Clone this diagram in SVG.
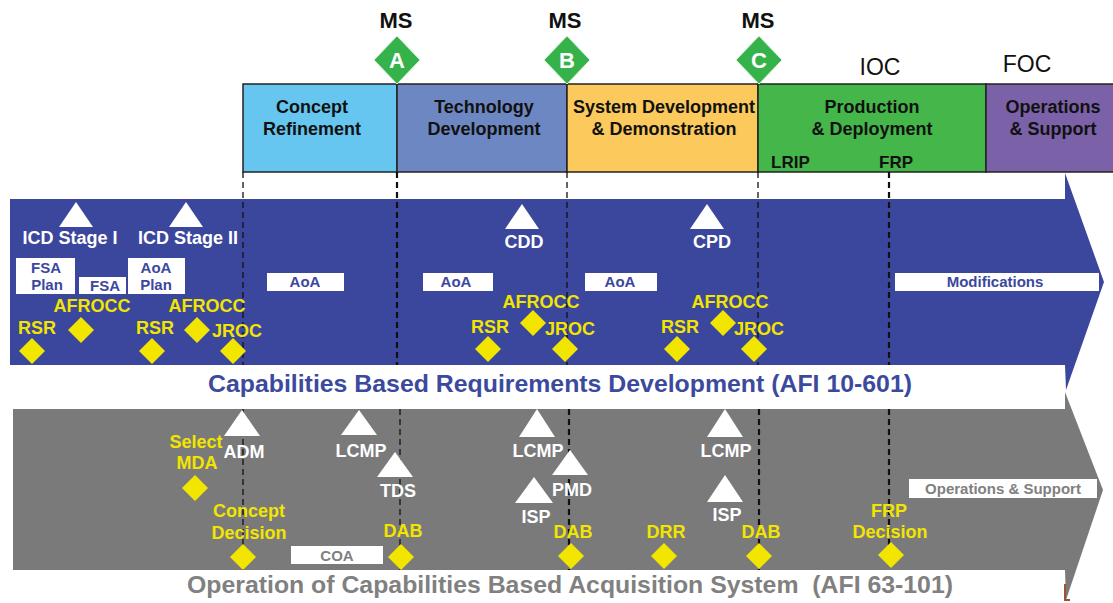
<svg xmlns="http://www.w3.org/2000/svg" width="1113" height="603" viewBox="0 0 1113 603">
<defs>
<style>
text{font-family:"Liberation Sans",Arial,sans-serif;font-weight:bold;text-anchor:middle}
.ph{font-size:18px;fill:#111}
.ms{font-size:22px;fill:#111}
.ml{font-size:22px;fill:#fff}
.ioc{font-size:23px;font-weight:normal;fill:#111}
.wt{font-size:18px;fill:#fff}
.yt{font-size:18px;fill:#F2E500}
.bx{font-size:15px;fill:#3C479D}
.gx{font-size:15px;fill:#808080}
.tri{fill:#fff}
.dia{fill:#F2E500}
.msd{fill:#35B34A;stroke:#d8f0d8;stroke-width:1}
.wb{fill:#fff}
.dt{stroke:#111;stroke-width:1.3;stroke-dasharray:6 4;fill:none}
.dk{stroke:#111;stroke-width:2.2;stroke-dasharray:6 4;fill:none}
</style>
</defs>
<rect width="1113" height="603" fill="#fff"/>

<!-- bands -->
<g id="band-requirements">
<rect x="10" y="199" width="1056" height="166" fill="#3B479C"/>
<polygon points="1065,173 1104,282 1066,390 1065,365 1065,199" fill="#3B479C"/>
<text x="560" y="392" style="font-size:24px;fill:#3C4A9E" textLength="704" lengthAdjust="spacingAndGlyphs">Capabilities Based Requirements Development (AFI 10-601)</text>
</g>
<g id="band-acquisition">
<rect x="13" y="409" width="1053" height="161" fill="#7A7A7A"/>
<polygon points="1065,392 1103,490 1066,600 1065,570 1065,409" fill="#7A7A7A"/>
<path d="M1065,584 V600 H1070" stroke="#A0522D" stroke-width="2" fill="none"/>
<text x="570" y="593" style="font-size:24px;fill:#808080" textLength="766" lengthAdjust="spacingAndGlyphs" xml:space="preserve">Operation of Capabilities Based Acquisition System  (AFI 63-101)</text>
</g>

<!-- phases -->
<g id="phase-concept">
<rect x="243" y="84" width="154" height="88" fill="#66C6F0" stroke="#222" stroke-width="1.5"/>
<text class="ph" x="312" y="113">Concept</text>
<text class="ph" x="312" y="135">Refinement</text>
</g>
<g id="phase-technology">
<rect x="397" y="84" width="170" height="88" fill="#6D87C2" stroke="#222" stroke-width="1.5"/>
<text class="ph" x="484" y="113">Technology</text>
<text class="ph" x="484" y="135">Development</text>
</g>
<g id="phase-sdd">
<rect x="567" y="84" width="191" height="88" fill="#FCC95C" stroke="#222" stroke-width="1.5"/>
<text class="ph" x="664" y="113">System Development</text>
<text class="ph" x="664" y="135">&amp; Demonstration</text>
</g>
<g id="phase-production">
<rect x="758" y="84" width="228" height="88" fill="#45B649" stroke="#222" stroke-width="1.5"/>
<text class="ph" x="872" y="113">Production</text>
<text class="ph" x="872" y="135">&amp; Deployment</text>
<text class="ph" x="771" y="168" style="text-anchor:start;font-size:17px">LRIP</text>
<text class="ph" x="879" y="168" style="text-anchor:start;font-size:17px">FRP</text>
</g>
<g id="phase-operations">
<rect x="986" y="84" width="130" height="88" fill="#7B61A8" stroke="#222" stroke-width="1.5"/>
<text class="ph" x="1053" y="113">Operations</text>
<text class="ph" x="1053" y="135">&amp; Support</text>
</g>

<!-- milestones -->
<g id="ms-a">
<text class="ms" x="396" y="28">MS</text>
<polygon class="msd" points="397,36 420,60 397,84 374,60"/>
<text class="ml" x="397" y="68">A</text>
</g>
<g id="ms-b">
<text class="ms" x="565" y="28">MS</text>
<polygon class="msd" points="567,36 590,60 567,84 544,60"/>
<text class="ml" x="567" y="68">B</text>
</g>
<g id="ms-c">
<text class="ms" x="758" y="28">MS</text>
<polygon class="msd" points="759,36 782,60 759,84 736,60"/>
<text class="ml" x="759" y="68">C</text>
</g>
<g id="ioc"><text class="ioc" x="880" y="75">IOC</text></g>
<g id="foc"><text class="ioc" x="1027" y="72">FOC</text></g>

<!-- connectors: dashed timeline lines -->
<g id="connectors">
<path class="dt" d="M243,172 V365 M243,409 V570"/>
<path class="dk" d="M397,172 V365"/>
<path class="dt" d="M400,409 V570"/>
<path class="dt" d="M567,172 V365"/>
<path class="dk" d="M569,409 V570"/>
<path class="dt" d="M758,172 V365"/>
<path class="dk" d="M759,409 V570"/>
<path class="dk" d="M889,172 V365 M889,409 V555"/>
</g>

<!-- requirements band nodes -->
<g id="icd-1">
<polygon class="tri" points="76,202 93,227 59,227"/>
<text class="wt" x="70" y="244">ICD Stage I</text>
</g>
<g id="icd-2">
<polygon class="tri" points="186,202 203,227 169,227"/>
<text class="wt" x="188" y="244">ICD Stage II</text>
</g>
<g id="cdd">
<polygon class="tri" points="522,204 539,229 505,229"/>
<text class="wt" x="524" y="248">CDD</text>
</g>
<g id="cpd">
<polygon class="tri" points="707,204 724,229 690,229"/>
<text class="wt" x="712" y="248">CPD</text>
</g>
<g id="fsa-plan">
<rect class="wb" x="16" y="258" width="59" height="36"/>
<text class="bx" x="46" y="273">FSA</text>
<text class="bx" x="47" y="290">Plan</text>
</g>
<g id="fsa">
<rect class="wb" x="79" y="277" width="47" height="17"/>
<text class="bx" x="105" y="291">FSA</text>
</g>
<g id="aoa-plan">
<rect class="wb" x="128" y="258" width="57" height="36"/>
<text class="bx" x="156" y="273">AoA</text>
<text class="bx" x="156" y="290">Plan</text>
</g>
<g id="aoa-1">
<rect class="wb" x="267" y="273" width="77" height="18"/>
<text class="bx" x="305" y="287">AoA</text>
</g>
<g id="aoa-2">
<rect class="wb" x="423" y="273" width="70" height="18"/>
<text class="bx" x="456" y="287">AoA</text>
</g>
<g id="aoa-3">
<rect class="wb" x="585" y="273" width="72" height="18"/>
<text class="bx" x="620" y="287">AoA</text>
</g>
<g id="modifications">
<rect class="wb" x="895" y="273" width="204" height="18"/>
<text class="bx" x="995" y="287">Modifications</text>
</g>
<g id="rsr-1">
<text class="yt" x="37" y="334">RSR</text>
<polygon class="dia" points="32,338 45,351 32,364 19,351"/>
</g>
<g id="afrocc-1">
<text class="yt" x="92" y="312">AFROCC</text>
<polygon class="dia" points="81,317 94,330 81,343 68,330"/>
</g>
<g id="rsr-2">
<text class="yt" x="155" y="334">RSR</text>
<polygon class="dia" points="152,338 165,351 152,364 139,351"/>
</g>
<g id="afrocc-2">
<text class="yt" x="207" y="312">AFROCC</text>
<polygon class="dia" points="197,317 210,330 197,343 184,330"/>
</g>
<g id="jroc-1">
<text class="yt" x="237" y="337">JROC</text>
<polygon class="dia" points="233,338 246,351 233,364 220,351"/>
</g>
<g id="rsr-3">
<text class="yt" x="490" y="333">RSR</text>
<polygon class="dia" points="488,336 501,349 488,362 475,349"/>
</g>
<g id="afrocc-3">
<text class="yt" x="541" y="308">AFROCC</text>
<polygon class="dia" points="533,310 546,323 533,336 520,323"/>
</g>
<g id="jroc-2">
<text class="yt" x="570" y="335">JROC</text>
<polygon class="dia" points="565,336 578,349 565,362 552,349"/>
</g>
<g id="rsr-4">
<text class="yt" x="680" y="333">RSR</text>
<polygon class="dia" points="677,336 690,349 677,362 664,349"/>
</g>
<g id="afrocc-4">
<text class="yt" x="730" y="308">AFROCC</text>
<polygon class="dia" points="723,310 736,323 723,336 710,323"/>
</g>
<g id="jroc-3">
<text class="yt" x="759" y="335">JROC</text>
<polygon class="dia" points="754,336 767,349 754,362 741,349"/>
</g>

<!-- acquisition band nodes -->
<g id="adm">
<polygon class="tri" points="242,410 260,436 224,436"/>
<text class="wt" x="244" y="458">ADM</text>
</g>
<g id="select-mda">
<text class="yt" x="196" y="448">Select</text>
<text class="yt" x="197" y="469">MDA</text>
<polygon class="dia" points="195,475 208,488 195,501 182,488"/>
</g>
<g id="lcmp-1">
<polygon class="tri" points="359,410 377,435 341,435"/>
<text class="wt" x="361" y="457">LCMP</text>
</g>
<g id="tds">
<polygon class="tri" points="395,452 413,477 377,477"/>
<text class="wt" x="398" y="497">TDS</text>
</g>
<g id="concept-decision">
<text class="yt" x="249" y="517">Concept</text>
<text class="yt" x="249" y="539">Decision</text>
<polygon class="dia" points="243,544 256,557 243,570 230,557"/>
</g>
<g id="coa">
<rect class="wb" x="291" y="546" width="92" height="18"/>
<text class="gx" x="337" y="561">COA</text>
</g>
<g id="dab-1">
<text class="yt" x="403" y="537">DAB</text>
<polygon class="dia" points="401,544 414,557 401,570 388,557"/>
</g>
<g id="lcmp-2">
<polygon class="tri" points="537,409 555,437 519,437"/>
<text class="wt" x="538" y="457">LCMP</text>
</g>
<g id="pmd">
<polygon class="tri" points="570,450 588,475 552,475"/>
<text class="wt" x="572" y="496">PMD</text>
</g>
<g id="isp-1">
<polygon class="tri" points="534,477 553,503 515,503"/>
<text class="wt" x="536" y="523">ISP</text>
</g>
<g id="dab-2">
<text class="yt" x="573" y="538">DAB</text>
<polygon class="dia" points="571,543 584,556 571,569 558,556"/>
</g>
<g id="drr">
<text class="yt" x="666" y="538">DRR</text>
<polygon class="dia" points="664,543 677,556 664,569 651,556"/>
</g>
<g id="lcmp-3">
<polygon class="tri" points="725,409 743,437 707,437"/>
<text class="wt" x="726" y="457">LCMP</text>
</g>
<g id="isp-2">
<polygon class="tri" points="725,475 743,502 707,502"/>
<text class="wt" x="727" y="521">ISP</text>
</g>
<g id="dab-3">
<text class="yt" x="761" y="538">DAB</text>
<polygon class="dia" points="759,543 772,556 759,569 746,556"/>
</g>
<g id="frp-decision">
<text class="yt" x="889" y="517">FRP</text>
<text class="yt" x="890" y="538">Decision</text>
<polygon class="dia" points="891,542 904,555 891,568 878,555"/>
</g>
<g id="ops-support">
<rect class="wb" x="909" y="479" width="188" height="19"/>
<text class="gx" x="1003" y="494">Operations &amp; Support</text>
</g>
</svg>
